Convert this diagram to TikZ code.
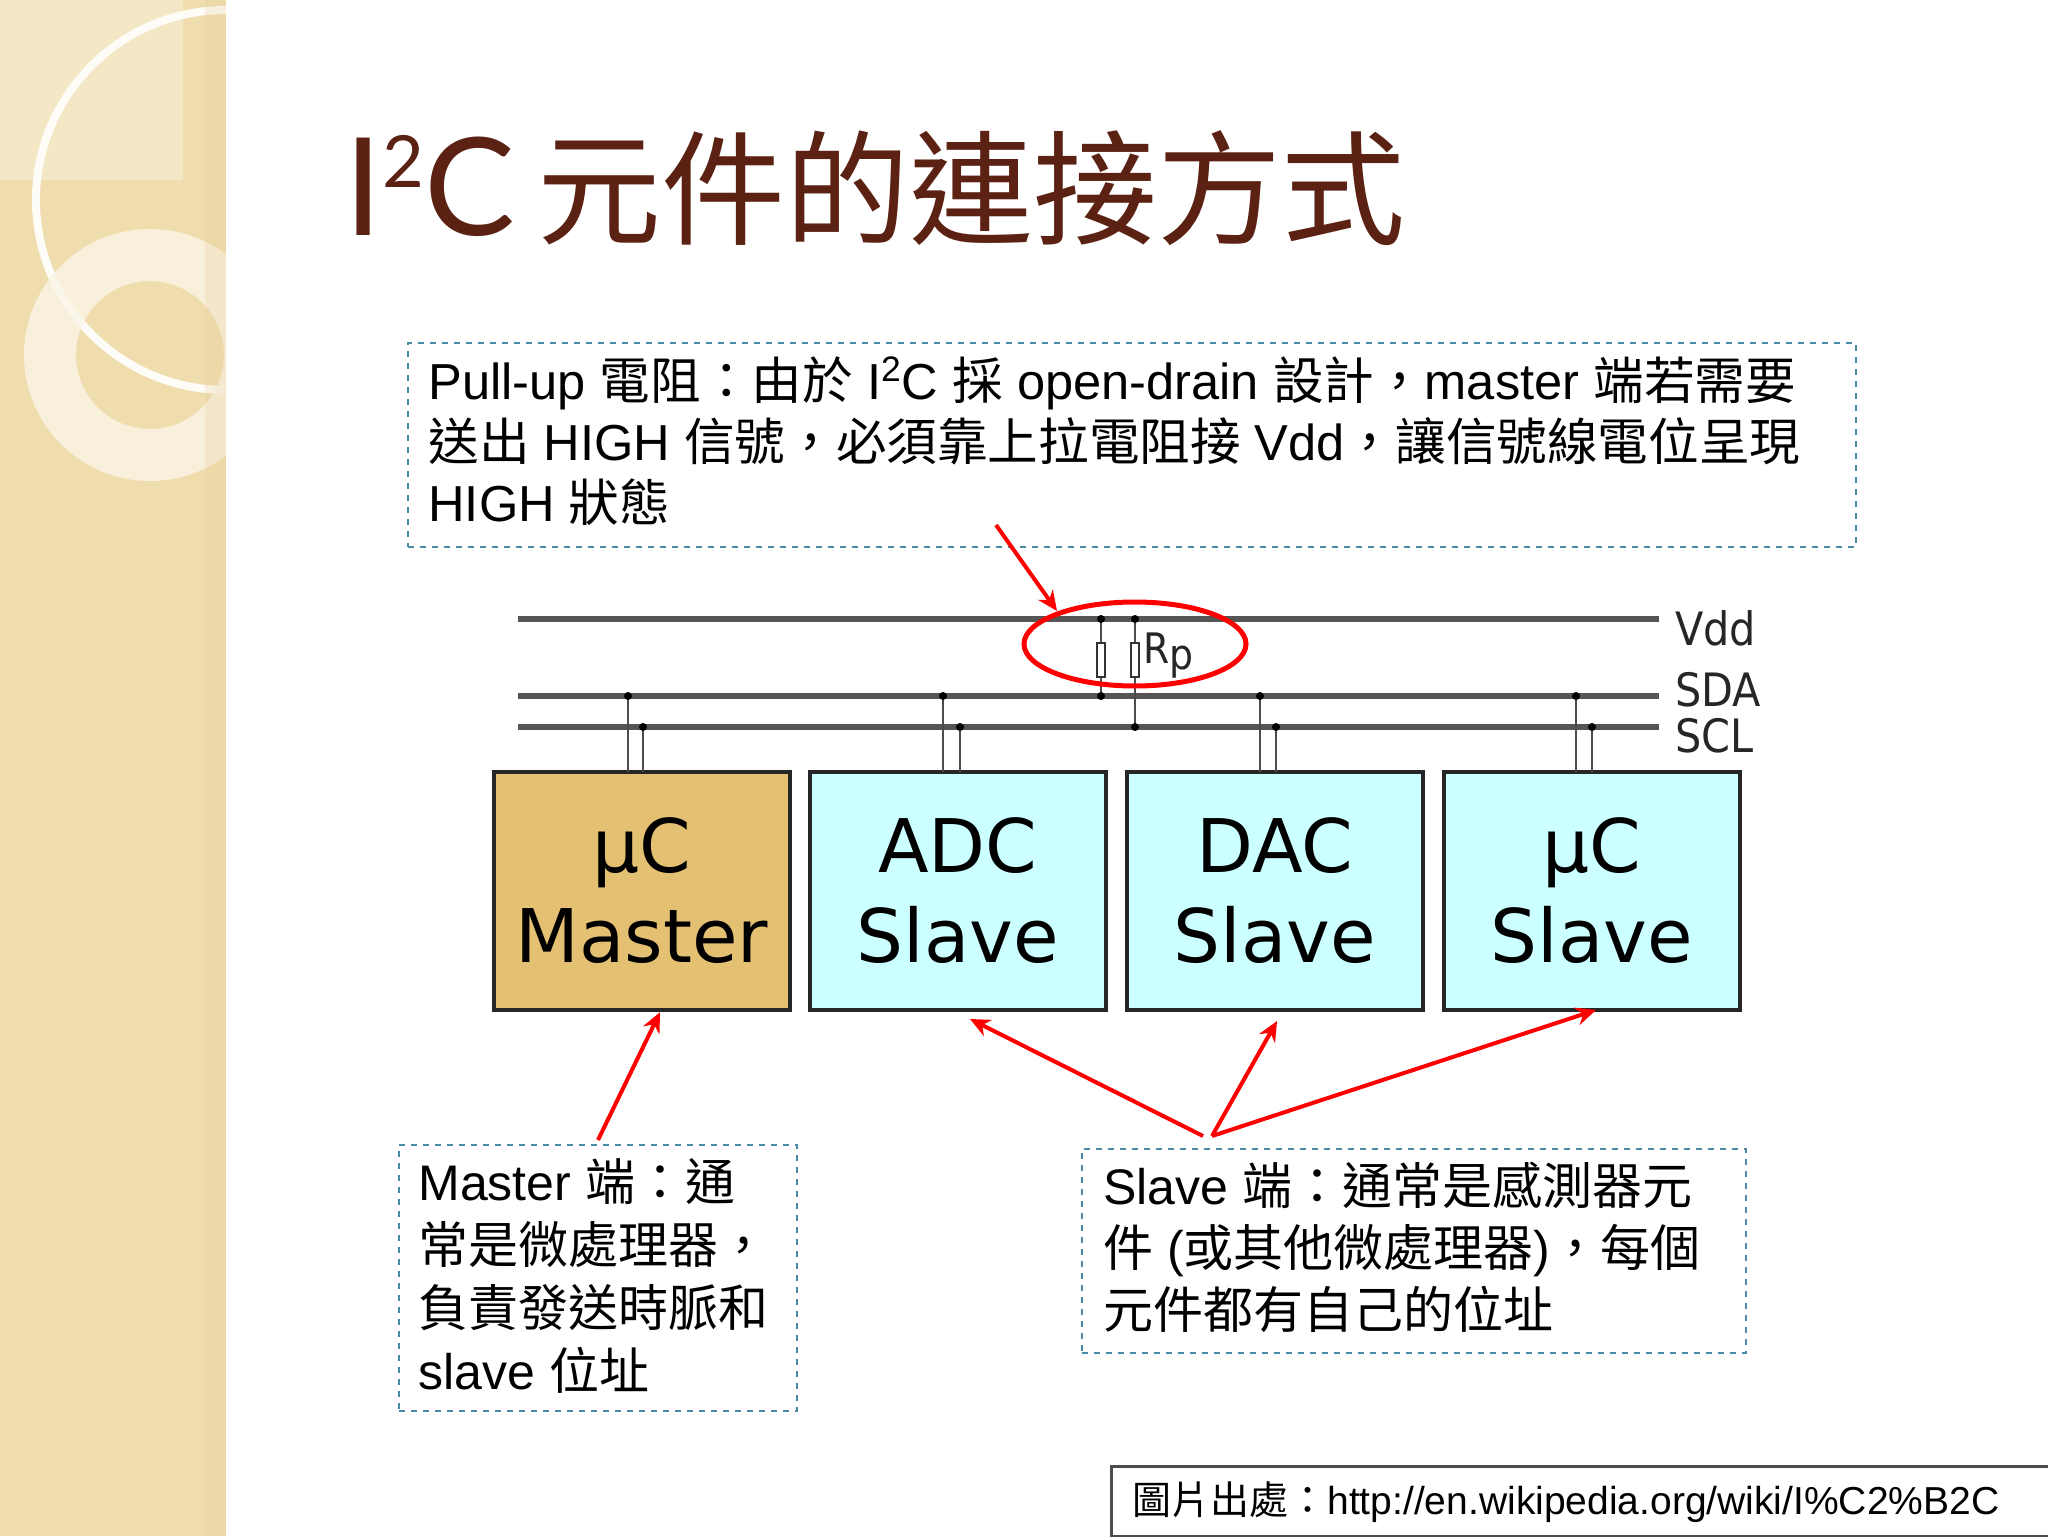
\documentclass[tikz,border=0pt]{standalone}
\usepackage{fontspec}
\usetikzlibrary{arrows.meta}
\setmainfont{Liberation Sans}
\newfontfamily\cjk{Noto Sans CJK TC}
\newfontfamily\dv{DejaVu Sans}
\newfontfamily\dvc{DejaVu Sans Condensed}
\newfontfamily\ttl{Lato}
\definecolor{strip}{HTML}{F0DDAE}
\definecolor{titlec}{HTML}{5B2113}
\definecolor{dashc}{HTML}{4A8CA8}
\definecolor{mastc}{HTML}{E4C072}
\definecolor{slavec}{HTML}{CCFFFF}
\definecolor{busc}{HTML}{555555}
\newcommand{\zh}[1]{{\cjk #1}}
\begin{document}
\begin{tikzpicture}[x=0.5pt,y=-0.5pt,
  note/.style={draw=dashc,dashed,line width=1pt,anchor=north west,align=left,inner sep=0pt},
  chip/.style={draw=black!85,line width=2.2pt,minimum width=148pt,minimum height=119pt,font=\dv\fontsize{37}{45}\selectfont,align=center},
  bus/.style={busc,line width=2.6pt},
  tap/.style={black!70,line width=1.2pt},
  dot/.style={circle,fill=black,inner sep=0pt,minimum size=4pt},
  redarr/.style={red,line width=2pt,-{Stealth[length=10pt,width=9pt]}},
  lbl/.style={font=\dvc\fontsize{23}{24}\selectfont,anchor=west,text=black!85,inner sep=0pt}]
\useasboundingbox (0,0) rectangle (2048,1536);
\fill[white] (0,0) rectangle (2048,1536);
% decorative strip
\fill[strip] (0,0) rectangle (226,1536);
\begin{scope}
\clip (0,0) rectangle (226,1536);
\fill[white,opacity=0.3] (0,0) rectangle (183,180);
\draw[white!90!strip,line width=4pt] (226,200) circle (190);
\draw[white!70!strip,line width=26pt,opacity=0.8] (150,355) circle (100);
\fill[strip!80!brown,opacity=0.25] (205,0) rectangle (226,1536);
\end{scope}
% title
\node[anchor=base west,text=titlec,inner sep=0pt] (title) at (344,235)
  {\ttl\fontsize{68}{70}\selectfont I\raisebox{24pt}{\fontsize{36}{36}\selectfont 2}C\,{\cjk\fontsize{62}{64}\selectfont 元件的連接方式}};
% top note
\node[note,minimum width=724pt,minimum height=102pt] (topnote) at (407,342) {};
\node[anchor=north west,align=left,inner sep=0pt,font=\fontsize{25.3}{30.5}\selectfont] (toptext) at (428,356)
 {Pull-up \zh{電阻：由於} I\textsuperscript{2}C \zh{採} open-drain \zh{設計，}master \zh{端若需要}\\
  \zh{送出} HIGH \zh{信號，必須靠上拉電阻接} Vdd\zh{，讓信號線電位呈現}\\
  HIGH \zh{狀態}};
% buses
\coordinate (vl) at (518,619); \coordinate (vr) at (1659,619);
\coordinate (dl) at (518,696); \coordinate (dr) at (1659,696);
\coordinate (cl) at (518,727); \coordinate (cr) at (1659,727);
\draw[bus] (vl) -- (vr); \draw[bus] (dl) -- (dr); \draw[bus] (cl) -- (cr);
\node[lbl] (vdd) at (1675,628) {Vdd};
\node[lbl] (sda) at (1675,690) {SDA};
\node[lbl] (scl) at (1675,736) {SCL};
% chips
\node[chip,fill=mastc] (m) at (642,891) {µC\\Master};
\node[chip,fill=slavec] (adc) at (958,891) {ADC\\Slave};
\node[chip,fill=slavec] (dac) at (1275,891) {DAC\\Slave};
\node[chip,fill=slavec] (sl) at (1592,891) {µC\\Slave};
% taps
\foreach \a/\b/\n in {628/643/m,943/960/adc,1260/1276/dac,1576/1592/sl}{
  \coordinate (s\n) at (\a,696); \coordinate (c\n) at (\b,727);
  \draw[tap] (s\n) -- (\a,772); \draw[tap] (c\n) -- (\b,772);
  \node[dot] at (s\n) {}; \node[dot] at (c\n) {};
}
% pull-up resistors
\coordinate (r1t) at (1101,619); \coordinate (r1b) at (1101,696);
\coordinate (r2t) at (1135,619); \coordinate (r2b) at (1135,727);
\draw[tap] (r1t) -- (r1b); \draw[tap] (r2t) -- (r2b);
\node[draw=black!80,fill=white,line width=1pt,minimum width=4pt,minimum height=17pt,inner sep=0pt] (rr1) at (1101,660) {};
\node[draw=black!80,fill=white,line width=1pt,minimum width=4pt,minimum height=17pt,inner sep=0pt] (rr2) at (1135,660) {};
\foreach \p in {r1t,r1b,r2t,r2b} \node[dot] at (\p) {};
\node[font=\dvc\fontsize{21}{22}\selectfont,anchor=west,inner sep=0pt,text=black!85] (rp) at (1143,656) {R\raisebox{-3pt}{p}};
% red ellipse and arrow
\draw[red,line width=2.5pt] (1135,644) ellipse (111 and 42);
\coordinate (ta) at (996,525);
\draw[redarr] (ta) -- (1057,611);
% master note
\node[note,minimum width=199pt,minimum height=133pt] (mnote) at (398,1144) {};
\node[anchor=north west,align=left,inner sep=0pt,font=\fontsize{25}{31.5}\selectfont] (mtext) at (418,1158)
 {Master \zh{端：通}\\\zh{常是微處理器，}\\\zh{負責發送時脈和}\\slave \zh{位址}};
\coordinate (ma) at (598,1140);
\draw[redarr] (ma) -- (m.south -| 660,0);
% slave note
\node[note,minimum width=332pt,minimum height=102pt] (snote) at (1081,1148) {};
\node[anchor=north west,align=left,inner sep=0pt,font=\fontsize{25}{31}\selectfont] (stext) at (1103,1162)
 {Slave \zh{端：通常是感測器元}\\\zh{件} (\zh{或其他微處理器})\zh{，每個}\\\zh{元件都有自己的位址}};
\coordinate (sa) at (1203,1136); \coordinate (sb) at (1212,1136);
\draw[redarr] (sa) -- (970,1019);
\draw[redarr] (sb) -- (1277,1021);
\draw[redarr] (sb) -- (1596,1010);
% credit
\node[draw=black!70,line width=1.5pt,anchor=north west,minimum width=469pt,minimum height=35pt,inner sep=0pt] (credit) at (1110,1465) {};
\node[anchor=west,inner sep=0pt,font=\fontsize{19.5}{22}\selectfont] (ctext) at (1132,1502)
 {\zh{圖片出處：}http://en.wikipedia.org/wiki/I\%C2\%B2C};
\end{tikzpicture}
\end{document}
